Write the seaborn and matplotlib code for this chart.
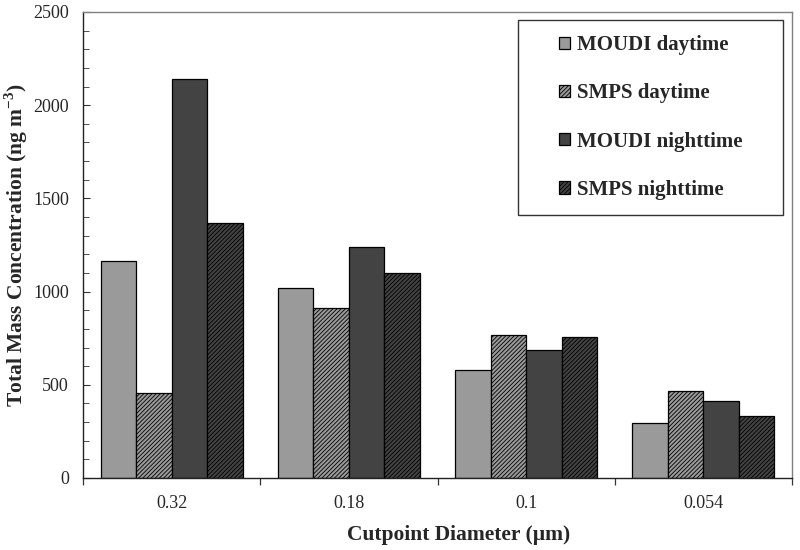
import matplotlib
matplotlib.use("Agg")
import matplotlib.pyplot as plt
from matplotlib.patches import Rectangle
from matplotlib.ticker import MultipleLocator, FixedLocator
import seaborn as sns
import pandas as pd

categories = ["0.32", "0.18", "0.1", "0.054"]
series = ["MOUDI daytime", "SMPS daytime", "MOUDI nighttime", "SMPS nighttime"]
moudi_day = [1164, 1021, 579, 293]
smps_day = [454, 914, 765, 467]
moudi_night = [2139, 1239, 688, 415]
smps_night = [1366, 1101, 755, 333]

values = [moudi_day, smps_day, moudi_night, smps_night]
rows = []
for s, vals in zip(series, values):
    for c, v in zip(categories, vals):
        rows.append({"Cutpoint": c, "Series": s, "Mass": v})
df = pd.DataFrame(rows)

colors = ["#9a9a9a", "#9a9a9a", "#434343", "#434343"]
hatches = [None, "////////", None, "////////"]

sns.set_theme(style="white")
plt.rcParams["font.family"] = ["Liberation Serif", "DejaVu Serif"]
plt.rcParams["mathtext.fontset"] = "custom"
plt.rcParams["mathtext.rm"] = "Liberation Serif"
plt.rcParams["mathtext.bf"] = "Liberation Serif:bold"
plt.rcParams["hatch.linewidth"] = 0.6
plt.rcParams["ytick.direction"] = "in"
plt.rcParams["xtick.direction"] = "out"

fig = plt.figure(figsize=(8, 5.5), dpi=100)
ax = fig.add_axes([83 / 800, 1 - 478 / 550, (792 - 83) / 800, (478 - 12) / 550])

sns.barplot(data=df, x="Cutpoint", y="Mass", hue="Series", order=categories,
            hue_order=series, palette=colors, saturation=1, width=0.8,
            edgecolor="black", linewidth=0.9, ax=ax, legend=False)

for cont, h in zip(ax.containers, hatches):
    for p in cont.patches:
        if h:
            p.set_hatch(h)

ax.set_xlim(-0.5, 3.5)
ax.set_ylim(0, 2500)
ax.yaxis.set_major_locator(MultipleLocator(500))
ax.yaxis.set_minor_locator(MultipleLocator(100))
ax.yaxis.set_tick_params(which="major", direction="in", left=True, length=5,
                         width=0.8, color="#333333", labelsize=13, pad=10)
ax.yaxis.set_tick_params(which="minor", direction="in", left=True, length=4,
                         width=0.6, color="#333333")
ax.xaxis.set_minor_locator(FixedLocator([-0.5, 0.5, 1.5, 2.5, 3.5]))
ax.xaxis.set_tick_params(which="major", length=0, labelsize=13, pad=12)
ax.xaxis.set_tick_params(which="minor", direction="out", bottom=True, length=5,
                         width=0.9, color="#333333")

for side in ["left", "bottom"]:
    ax.spines[side].set_color("#222222")
    ax.spines[side].set_linewidth(1.0)
for side in ["top", "right"]:
    ax.spines[side].set_color("#808080")
    ax.spines[side].set_linewidth(1.0)

ax.set_xlabel("Cutpoint Diameter (µm)", fontsize=15.5, fontweight="bold")
ax.xaxis.label.set_verticalalignment("center")
ax.xaxis.set_label_coords((459 - 83) / (792 - 83), -(535 - 478) / (478 - 12))
ax.set_ylabel(r"Total Mass Concentration (ng m$^{\mathbf{-3}}$)", fontsize=15.5,
              fontweight="bold", labelpad=2)

handles = [cont.patches[0] for cont in ax.containers]
leg = ax.legend(handles, series, loc="center",
                bbox_to_anchor=(650.5 / 800, 1 - 117.5 / 550),
                bbox_transform=fig.transFigure, frameon=False,
                prop={"family": "Liberation Serif", "weight": "bold", "size": 15},
                handlelength=0.55, handleheight=0.55, handletextpad=0.3,
                labelspacing=1.35)
box = Rectangle((518 / 800, 1 - 215 / 550), (783 - 518) / 800, (215 - 20) / 550,
                transform=fig.transFigure, fill=False, edgecolor="#333333",
                linewidth=1.0, zorder=5)
fig.patches.append(box)

fig.savefig("out.png", dpi=100)
